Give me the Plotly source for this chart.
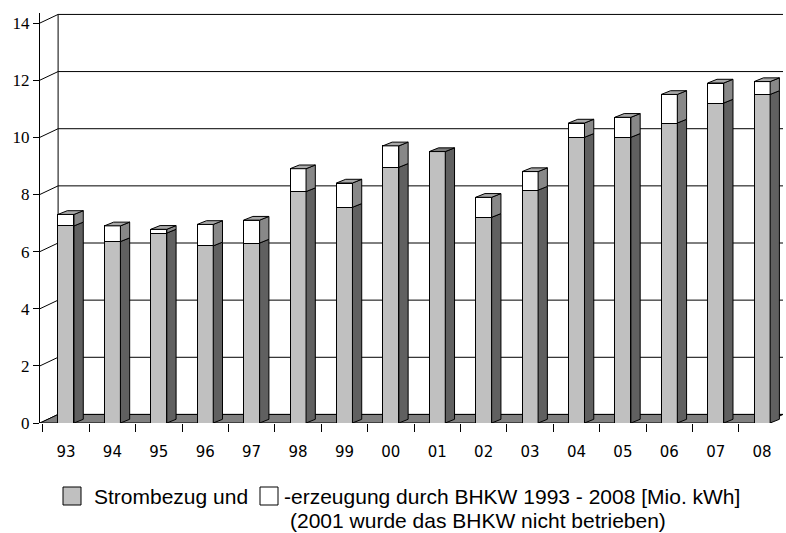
import plotly.graph_objects as go

# ---- data ----
years = ["93", "94", "95", "96", "97", "98", "99", "00",
         "01", "02", "03", "04", "05", "06", "07", "08"]
strombezug = [6.9, 6.35, 6.65, 6.2, 6.3, 8.1, 7.55, 8.95,
              9.5, 7.2, 8.15, 10.0, 10.0, 10.5, 11.2, 11.5]
erzeugung = [0.4, 0.55, 0.13, 0.75, 0.8, 0.8, 0.85, 0.75,
             0.0, 0.7, 0.65, 0.5, 0.7, 1.0, 0.7, 0.45]
y_ticks = [0, 2, 4, 6, 8, 10, 12, 14]

legend_a = "Strombezug und"
legend_b = "-erzeugung durch BHKW 1993 - 2008 [Mio. kWh]"
legend_c = "(2001 wurde das BHKW nicht betrieben)"

# ---- styling / geometry ----
SERIF = "Liberation Serif"
SANS = "Liberation Sans"
LABEL_FONT = "DejaVu Sans"
W = 0.345           # front face width (category units)
DX, DY = 0.2, 0.13  # bar depth offset
FX, FY = 0.39, 0.3  # floor / back wall offset
X0, X1 = -0.56, 15.45
YMAX = 14.35

ML, MR, MT, MB = 40, 3, 13, 110
FW, FH = 786, 533
PW, PH = FW - ML - MR, FH - MT - MB


def px_x(p):
    return (p - ML) / PW


def px_y(p):
    return (FH - MB - p) / PH


xs = list(range(len(years)))
fig = go.Figure()

# front faces
fig.add_bar(x=xs, y=strombezug, width=W, name=legend_a,
            marker=dict(color="#c0c0c0", line=dict(color="black", width=1)),
            showlegend=False, hoverinfo="skip")
fig.add_bar(x=xs, y=erzeugung, width=W, name=legend_b,
            marker=dict(color="white", line=dict(color="black", width=1)),
            showlegend=False, hoverinfo="skip")

# side and top faces, derived from the data
sd_x, sd_y, sl_x, sl_y = [], [], [], []
tl_x, tl_y, td_x, td_y = [], [], [], []
for i, (g, e) in enumerate(zip(strombezug, erzeugung)):
    xl, xr = i - W / 2, i + W / 2
    t = g + e
    sd_x += [xr, xr + DX, xr + DX, xr, xr, None]
    sd_y += [0, DY, g + DY, g, 0, None]
    if e > 0:
        sl_x += [xr, xr + DX, xr + DX, xr, xr, None]
        sl_y += [g, g + DY, t + DY, t, g, None]
        tl_x += [xl, xl + DX, xr + DX, xr, xl, None]
        tl_y += [t, t + DY, t + DY, t, t, None]
    else:
        td_x += [xl, xl + DX, xr + DX, xr, xl, None]
        td_y += [t, t + DY, t + DY, t, t, None]

for px_, py_, col in [(sd_x, sd_y, "#606060"), (sl_x, sl_y, "#888888"),
                      (tl_x, tl_y, "#a8a8a8"), (td_x, td_y, "#7a7a7a")]:
    fig.add_scatter(x=px_, y=py_, mode="lines", fill="toself", fillcolor=col,
                    line=dict(color="black", width=1), showlegend=False,
                    hoverinfo="skip")

# back wall grid lines + left back edge, and floor
shapes = []
grid_path = ""
for v in y_ticks:
    grid_path += f"M{X0},{v} L{X0 + FX},{v + FY} L{X1},{v + FY} "
grid_path += f"M{X0 + FX},{FY} L{X0 + FX},{y_ticks[-1] + FY}"
shapes.append(dict(type="path", path=grid_path, xref="x", yref="y",
                   line=dict(color="black", width=1), layer="below"))
shapes.append(dict(type="path", xref="x", yref="y", layer="below",
                   path=f"M{X0},0 L{X1 - FX},0 L{X1},{FY} L{X0 + FX},{FY} Z",
                   fillcolor="#808080", line=dict(color="black", width=1)))

# manual legend
shapes.append(dict(type="rect", xref="paper", yref="paper",
                   x0=px_x(63), x1=px_x(81), y0=px_y(505), y1=px_y(487),
                   fillcolor="#c0c0c0", line=dict(color="black", width=1)))
shapes.append(dict(type="rect", xref="paper", yref="paper",
                   x0=px_x(260), x1=px_x(278), y0=px_y(505), y1=px_y(487),
                   fillcolor="white", line=dict(color="black", width=1)))
annotations = [
    dict(text=legend_a, x=px_x(92), y=px_y(496), xref="paper", yref="paper",
         xanchor="left", yanchor="middle", showarrow=False,
         font=dict(family=SANS, size=21, color="black")),
    dict(text=legend_b, x=px_x(282), y=px_y(496), xref="paper", yref="paper",
         xanchor="left", yanchor="middle", showarrow=False,
         font=dict(family=SANS, size=21, color="black")),
    dict(text=legend_c, x=px_x(288), y=px_y(520), xref="paper", yref="paper",
         xanchor="left", yanchor="middle", showarrow=False,
         font=dict(family=SANS, size=21, color="black")),
]

fig.update_layout(
    width=FW, height=FH, barmode="stack",
    margin=dict(l=ML, r=MR, t=MT, b=MB),
    paper_bgcolor="white", plot_bgcolor="white",
    shapes=shapes, annotations=annotations, showlegend=False,
    xaxis=dict(range=[X0, X1], tickmode="array", tickvals=xs, ticktext=years,
               ticks="outside", ticklen=15, tickcolor="rgba(0,0,0,0)",
               showgrid=False, zeroline=False, showline=False,
               tickfont=dict(family=LABEL_FONT, size=15, color="black"),
               minor=dict(tickvals=[i + 0.5 for i in range(-1, len(years))],
                          ticks="outside", ticklen=8, tickcolor="black",
                          showgrid=False)),
    yaxis=dict(range=[0, YMAX], tickmode="array", tickvals=y_ticks,
               ticks="outside", ticklen=6, tickcolor="black",
               showgrid=False, zeroline=False, showline=True,
               linecolor="black", linewidth=1,
               tickfont=dict(family=SERIF, size=17, color="black")),
)

fig.write_html("out.html", config={"displayModeBar": False},
               post_script="document.body.style.margin='0';")
